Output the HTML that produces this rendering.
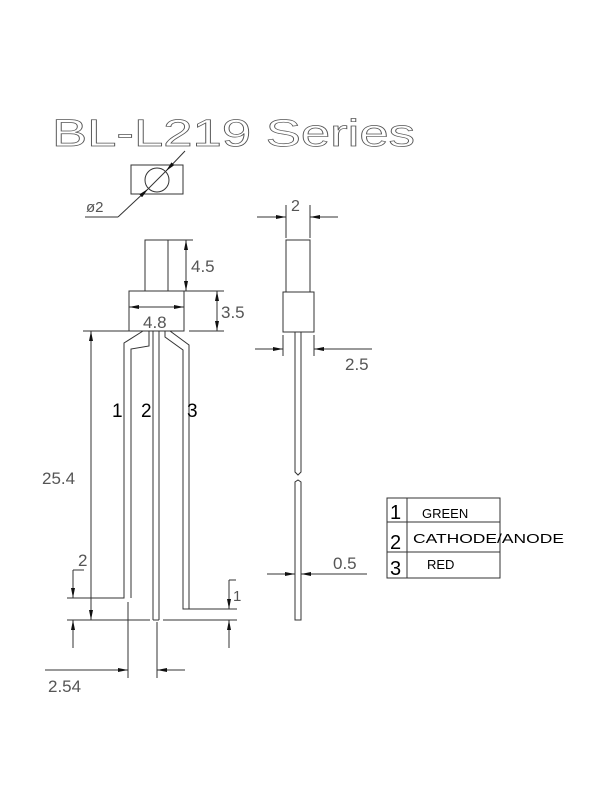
<!DOCTYPE html>
<html><head><meta charset="utf-8"><style>
html,body{margin:0;padding:0;background:#fff;}
svg{display:block;}
.l{stroke:#333;stroke-width:1;fill:none;}
.t{font-family:"Liberation Sans",sans-serif;fill:#555;}
.k{font-family:"Liberation Sans",sans-serif;fill:#000;}
</style></head><body>
<svg width="600" height="800" viewBox="0 0 600 800" xmlns="http://www.w3.org/2000/svg">
<defs>
<marker id="a" viewBox="0 0 10 4" refX="10" refY="2" markerWidth="10" markerHeight="4" markerUnits="userSpaceOnUse" orient="auto"><path d="M0,0 L10,2 L0,4 z" fill="#111"/></marker>
</defs>
<text class="t" x="52" y="146" font-size="38" textLength="363" lengthAdjust="spacingAndGlyphs" style="fill:none;stroke:#555;stroke-width:0.7">BL-L219 Series</text>

<rect class="l" x="131" y="165" width="52" height="29"/>
<circle class="l" cx="157" cy="180" r="12"/>
<line class="l" x1="185" y1="151" x2="166" y2="171" marker-end="url(#a)"/>
<line class="l" x1="118" y1="217" x2="148" y2="189" marker-end="url(#a)"/>
<line class="l" x1="148" y1="189" x2="166" y2="171"/>
<line class="l" x1="118" y1="217" x2="85" y2="217"/>
<text class="t" x="86" y="212" font-size="15">ø2</text>

<rect class="l" x="145" y="240" width="23" height="51"/>
<rect class="l" x="129" y="291" width="55" height="40"/>
<line class="l" x1="168" y1="240" x2="193" y2="240"/>
<line class="l" x1="186" y1="265" x2="186" y2="240" marker-end="url(#a)"/>
<line class="l" x1="186" y1="265" x2="186" y2="291" marker-end="url(#a)"/>
<text class="t" x="191" y="272" font-size="17">4.5</text>
<line class="l" x1="184" y1="291" x2="224" y2="291"/>
<line class="l" x1="189" y1="331" x2="224" y2="331"/>
<line class="l" x1="217" y1="311" x2="217" y2="291" marker-end="url(#a)"/>
<line class="l" x1="217" y1="311" x2="217" y2="331" marker-end="url(#a)"/>
<text class="t" x="221" y="318" font-size="17">3.5</text>
<line class="l" x1="157" y1="307" x2="129" y2="307" marker-end="url(#a)"/>
<line class="l" x1="157" y1="307" x2="184" y2="307" marker-end="url(#a)"/>
<text class="t" x="143" y="328" font-size="17">4.8</text>
<line class="l" x1="83" y1="331" x2="129" y2="331"/>

<polyline class="l" points="143,331 124,343 124,598 67,598"/>
<polyline class="l" points="149,331 149,346 131,349 131,598"/>
<line class="l" x1="153" y1="331" x2="153" y2="620"/>
<line class="l" x1="159" y1="331" x2="159" y2="620"/>
<line class="l" x1="153" y1="620" x2="159" y2="620"/>
<polyline class="l" points="165,331 165,337 183,350 183,609 237,609"/>
<polyline class="l" points="170,331 189,345 189,609"/>
<line class="l" x1="67" y1="620" x2="150" y2="620"/>
<line class="l" x1="163" y1="620" x2="237" y2="620"/>
<text class="k" x="112" y="417" font-size="19">1</text>
<text class="k" x="141" y="417" font-size="19">2</text>
<text class="k" x="187" y="417" font-size="19">3</text>

<line class="l" x1="91" y1="475" x2="91" y2="331" marker-end="url(#a)"/>
<line class="l" x1="91" y1="475" x2="91" y2="620" marker-end="url(#a)"/>
<text class="t" x="42" y="484" font-size="17">25.4</text>
<line class="l" x1="73" y1="570" x2="73" y2="598" marker-end="url(#a)"/>
<line class="l" x1="73" y1="648" x2="73" y2="620" marker-end="url(#a)"/>
<line class="l" x1="73" y1="570" x2="84" y2="570"/>
<text class="t" x="78" y="566" font-size="17">2</text>
<line class="l" x1="229" y1="580" x2="229" y2="609" marker-end="url(#a)"/>
<line class="l" x1="229" y1="648" x2="229" y2="620" marker-end="url(#a)"/>
<line class="l" x1="229" y1="580" x2="236" y2="580"/>
<text class="t" x="233" y="601" font-size="15">1</text>
<line class="l" x1="128" y1="602" x2="128" y2="678"/>
<line class="l" x1="157" y1="622" x2="157" y2="678"/>
<line class="l" x1="45" y1="670" x2="128" y2="670" marker-end="url(#a)"/>
<line class="l" x1="185" y1="670" x2="157" y2="670" marker-end="url(#a)"/>
<text class="t" x="48" y="692" font-size="17">2.54</text>

<line class="l" x1="286" y1="205" x2="286" y2="238"/>
<line class="l" x1="310" y1="205" x2="310" y2="238"/>
<line class="l" x1="257" y1="217" x2="286" y2="217" marker-end="url(#a)"/>
<line class="l" x1="338" y1="217" x2="310" y2="217" marker-end="url(#a)"/>
<text class="t" x="291" y="211" font-size="16">2</text>
<rect class="l" x="286" y="240" width="24" height="52"/>
<rect class="l" x="283" y="292" width="31" height="40"/>
<line class="l" x1="283" y1="335" x2="283" y2="356"/>
<line class="l" x1="314" y1="335" x2="314" y2="356"/>
<line class="l" x1="255" y1="349" x2="283" y2="349" marker-end="url(#a)"/>
<line class="l" x1="372" y1="349" x2="314" y2="349" marker-end="url(#a)"/>
<text class="t" x="345" y="370" font-size="17">2.5</text>
<path class="l" d="M295,332 L295,472 L298,475 L301,472 L301,332"/>
<path class="l" d="M295,620 L295,482 L298,480 L301,482 L301,620 Z"/>
<line class="l" x1="267" y1="574" x2="295" y2="574" marker-end="url(#a)"/>
<line class="l" x1="367" y1="574" x2="301" y2="574" marker-end="url(#a)"/>
<text class="t" x="333" y="569" font-size="17">0.5</text>

<rect class="l" x="387" y="498" width="113" height="80"/>
<line class="l" x1="407" y1="498" x2="407" y2="578"/>
<line class="l" x1="387" y1="522" x2="500" y2="522"/>
<line class="l" x1="387" y1="552" x2="500" y2="552"/>
<text class="k" x="390" y="519" font-size="20">1</text>
<text class="k" x="390" y="549" font-size="20">2</text>
<text class="k" x="390" y="575" font-size="20">3</text>
<text class="k" x="422" y="518" font-size="13">GREEN</text>
<text class="k" x="413" y="543" font-size="13" textLength="151" lengthAdjust="spacingAndGlyphs">CATHODE/ANODE</text>
<text class="k" x="427" y="569" font-size="13">RED</text>
</svg>
</body></html>
